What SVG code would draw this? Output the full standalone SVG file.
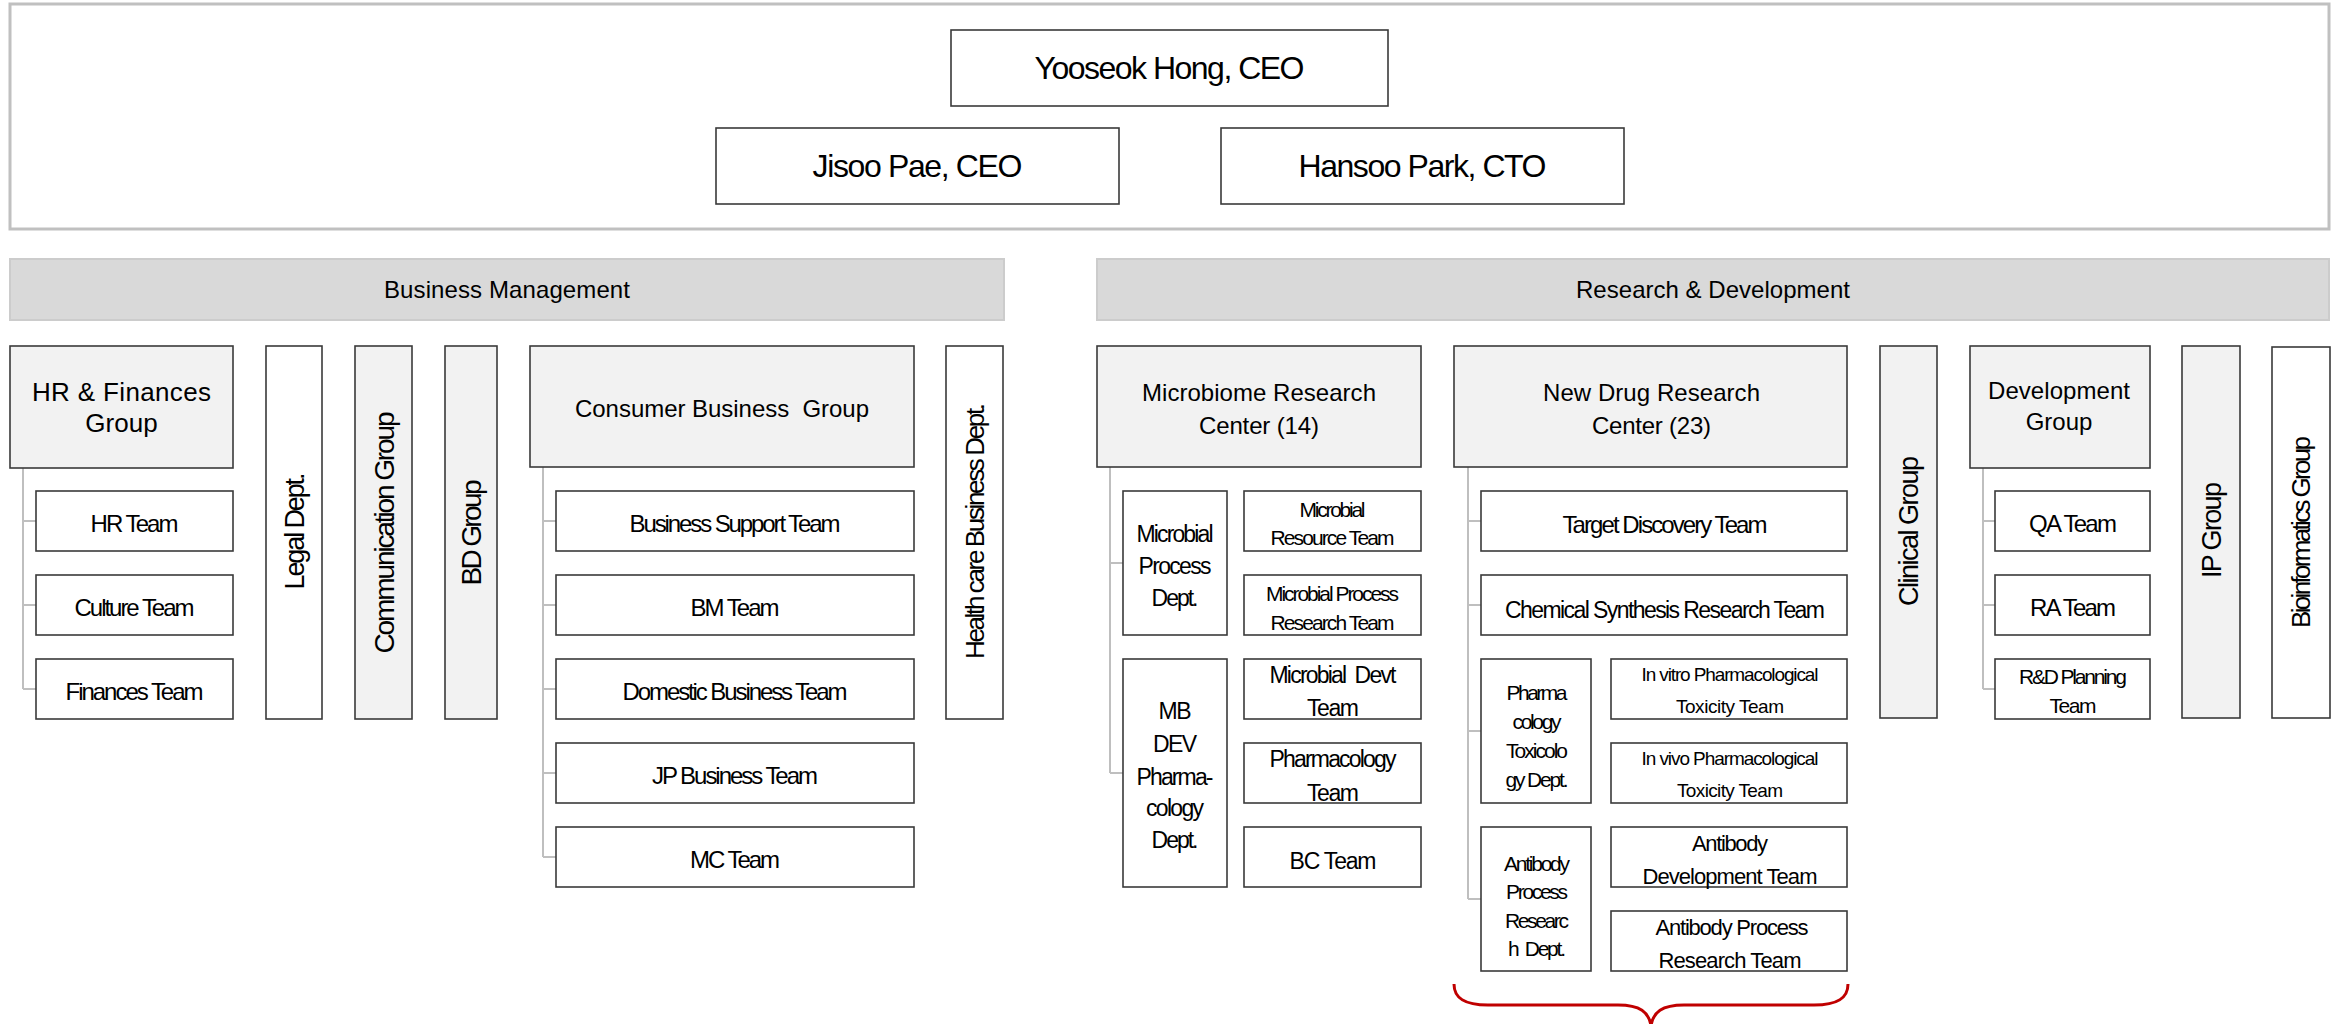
<svg xmlns="http://www.w3.org/2000/svg" width="2341" height="1024" viewBox="0 0 2341 1024">
  <style>
    .frame { fill: #ffffff; stroke: #c0c0c0; stroke-width: 3; }
    .bar { fill: #d9d9d9; stroke: #cccccc; stroke-width: 2; }
    .box { fill: #ffffff; stroke: #3a3a3a; stroke-width: 1.6; }
    .grp { fill: #f2f2f2; stroke: #3a3a3a; stroke-width: 1.6; }
    .link { fill: none; stroke: #bfbfbf; stroke-width: 2; }
    .brace { fill: none; stroke: #c00000; stroke-width: 3; }
    text { font-family: "Liberation Sans", Arial, sans-serif; fill: #000000; text-anchor: middle; white-space: pre; }
    .f32 { font-size: 32px; }
    .f28 { font-size: 28px; }
    .f27 { font-size: 27px; }
    .f26 { font-size: 26px; }
    .f24 { font-size: 24px; }
    .f23 { font-size: 23px; }
    .f22 { font-size: 22px; }
    .f21 { font-size: 21px; }
    .f19 { font-size: 19px; }
  </style>

  <!-- executive frame -->
  <rect class="frame" x="10" y="4" width="2319" height="225"/>

  <g id="ceo-hong">
    <rect class="box" x="951" y="30" width="437" height="76"/>
    <text class="f32" x="1169.5" y="79" textLength="270">Yooseok Hong, CEO</text>
  </g>
  <g id="ceo-pae">
    <rect class="box" x="716" y="128" width="403" height="76"/>
    <text class="f32" x="917.5" y="177" textLength="210">Jisoo Pae, CEO</text>
  </g>
  <g id="cto-park">
    <rect class="box" x="1221" y="128" width="403" height="76"/>
    <text class="f32" x="1422.5" y="177" textLength="248">Hansoo Park, CTO</text>
  </g>

  <!-- division headers -->
  <g id="business-management">
    <rect class="bar" x="10" y="259" width="994" height="61"/>
    <text class="f24" x="507" y="298" textLength="246">Business Management</text>
  </g>
  <g id="research-development">
    <rect class="bar" x="1097" y="259" width="1232" height="61"/>
    <text class="f24" x="1713" y="298" textLength="274">Research &amp; Development</text>
  </g>

  <!-- tree connectors -->
  <g id="connectors">
    <path class="link" d="M23,468 V689 M23,521 H36 M23,605 H36 M23,689 H36"/>
    <path class="link" d="M543,467 V857 M543,521 H556 M543,605 H556 M543,689 H556 M543,773 H556 M543,857 H556"/>
    <path class="link" d="M1110,467 V773 M1110,563 H1123 M1110,773 H1123"/>
    <path class="link" d="M1468,467 V899 M1468,521 H1481 M1468,605 H1481 M1468,731 H1481 M1468,899 H1481"/>
    <path class="link" d="M1983,468 V689 M1983,521 H1995 M1983,605 H1995 M1983,689 H1995"/>
  </g>

  <!-- Business Management units -->
  <g id="hr-finances-group">
    <rect class="grp" x="10" y="346" width="223" height="122"/>
    <text class="f26" x="121.5" y="401" textLength="179">HR &amp; Finances</text>
    <text class="f26" x="121.5" y="432">Group</text>
  </g>
  <g id="hr-team">
    <rect class="box" x="36" y="491" width="197" height="60"/>
    <text class="f24" x="134.5" y="532" textLength="88">HR Team</text>
  </g>
  <g id="culture-team">
    <rect class="box" x="36" y="575" width="197" height="60"/>
    <text class="f24" x="134.5" y="616" textLength="120">Culture Team</text>
  </g>
  <g id="finances-team">
    <rect class="box" x="36" y="659" width="197" height="60"/>
    <text class="f24" x="134.5" y="700" textLength="138">Finances Team</text>
  </g>

  <g id="legal-dept">
    <rect class="box" x="266" y="346" width="56" height="373"/>
    <text class="f27" transform="translate(304,531) rotate(-90)" textLength="117">Legal Dept.</text>
  </g>
  <g id="communication-group">
    <rect class="grp" x="355" y="346" width="57" height="373"/>
    <text class="f28" transform="translate(394,532.5) rotate(-90)" textLength="242">Communication Group</text>
  </g>
  <g id="bd-group">
    <rect class="grp" x="445" y="346" width="52" height="373"/>
    <text class="f28" transform="translate(481,532.5) rotate(-90)" textLength="106">BD Group</text>
  </g>

  <g id="consumer-business-group">
    <rect class="grp" x="530" y="346" width="384" height="121"/>
    <text class="f24" x="722" y="417" textLength="294">Consumer Business  Group</text>
  </g>
  <g id="business-support-team">
    <rect class="box" x="556" y="491" width="358" height="60"/>
    <text class="f24" x="735" y="532" textLength="211">Business Support Team</text>
  </g>
  <g id="bm-team">
    <rect class="box" x="556" y="575" width="358" height="60"/>
    <text class="f24" x="735" y="616" textLength="89">BM Team</text>
  </g>
  <g id="domestic-business-team">
    <rect class="box" x="556" y="659" width="358" height="60"/>
    <text class="f24" x="735" y="700" textLength="225">Domestic Business Team</text>
  </g>
  <g id="jp-business-team">
    <rect class="box" x="556" y="743" width="358" height="60"/>
    <text class="f24" x="735" y="784" textLength="166">JP Business Team</text>
  </g>
  <g id="mc-team">
    <rect class="box" x="556" y="827" width="358" height="60"/>
    <text class="f24" x="735" y="868" textLength="90">MC Team</text>
  </g>

  <g id="healthcare-business-dept">
    <rect class="box" x="946" y="346" width="57" height="373"/>
    <text class="f26" transform="translate(984,531) rotate(-90)" textLength="256">Health care Business Dept.</text>
  </g>

  <!-- Microbiome Research Center -->
  <g id="microbiome-research-center">
    <rect class="grp" x="1097" y="346" width="324" height="121"/>
    <text class="f24" x="1259" y="401" textLength="234">Microbiome Research</text>
    <text class="f24" x="1259" y="434" textLength="120">Center (14)</text>
  </g>
  <g id="microbial-process-dept">
    <rect class="box" x="1123" y="491" width="104" height="144"/>
    <text class="f23" x="1175" y="542" textLength="77">Microbial</text>
    <text class="f23" x="1175" y="574" textLength="73">Process</text>
    <text class="f23" x="1175" y="606" textLength="47">Dept.</text>
  </g>
  <g id="mb-dev-pharmacology-dept">
    <rect class="box" x="1123" y="659" width="104" height="228"/>
    <text class="f23" x="1175" y="719" textLength="33">MB</text>
    <text class="f23" x="1175" y="752" textLength="44">DEV</text>
    <text class="f23" x="1175" y="785" textLength="77">Pharma-</text>
    <text class="f23" x="1175" y="816" textLength="58">cology</text>
    <text class="f23" x="1175" y="848" textLength="47">Dept.</text>
  </g>
  <g id="microbial-resource-team">
    <rect class="box" x="1244" y="491" width="177" height="60"/>
    <text class="f21" x="1332.5" y="517" textLength="66">Microbial</text>
    <text class="f21" x="1332.5" y="545" textLength="124">Resource Team</text>
  </g>
  <g id="microbial-process-research-team">
    <rect class="box" x="1244" y="575" width="177" height="60"/>
    <text class="f21" x="1332.5" y="601" textLength="133">Microbial Process</text>
    <text class="f21" x="1332.5" y="630" textLength="124">Research Team</text>
  </g>
  <g id="microbial-devt-team">
    <rect class="box" x="1244" y="659" width="177" height="60"/>
    <text class="f23" x="1333" y="683" textLength="127">Microbial  Devt</text>
    <text class="f23" x="1333" y="716" textLength="52">Team</text>
  </g>
  <g id="pharmacology-team">
    <rect class="box" x="1244" y="743" width="177" height="60"/>
    <text class="f23" x="1333" y="767" textLength="127">Pharmacology</text>
    <text class="f23" x="1333" y="801" textLength="52">Team</text>
  </g>
  <g id="bc-team">
    <rect class="box" x="1244" y="827" width="177" height="60"/>
    <text class="f23" x="1333" y="869" textLength="87">BC Team</text>
  </g>

  <!-- New Drug Research Center -->
  <g id="new-drug-research-center">
    <rect class="grp" x="1454" y="346" width="393" height="121"/>
    <text class="f24" x="1651.5" y="401" textLength="217">New Drug Research</text>
    <text class="f24" x="1651.5" y="434" textLength="119">Center (23)</text>
  </g>
  <g id="target-discovery-team">
    <rect class="box" x="1481" y="491" width="366" height="60"/>
    <text class="f24" x="1665" y="533" textLength="205">Target Discovery Team</text>
  </g>
  <g id="chemical-synthesis-research-team">
    <rect class="box" x="1481" y="575" width="366" height="60"/>
    <text class="f23" x="1665" y="618" textLength="320">Chemical Synthesis Research Team</text>
  </g>
  <g id="pharmacology-toxicology-dept">
    <rect class="box" x="1481" y="659" width="110" height="144"/>
    <text class="f21" x="1537" y="700" textLength="61">Pharma</text>
    <text class="f21" x="1537" y="729" textLength="49">cology</text>
    <text class="f21" x="1537" y="758" textLength="62">Toxicolo</text>
    <text class="f21" x="1537" y="787" textLength="63">gy Dept.</text>
  </g>
  <g id="in-vitro-toxicity-team">
    <rect class="box" x="1611" y="659" width="236" height="60"/>
    <text class="f19" x="1730" y="681" textLength="177">In vitro Pharmacological</text>
    <text class="f19" x="1730" y="713" textLength="108">Toxicity Team</text>
  </g>
  <g id="in-vivo-toxicity-team">
    <rect class="box" x="1611" y="743" width="236" height="60"/>
    <text class="f19" x="1730" y="765" textLength="177">In vivo Pharmacological</text>
    <text class="f19" x="1730" y="797" textLength="106">Toxicity Team</text>
  </g>
  <g id="antibody-process-research-dept">
    <rect class="box" x="1481" y="827" width="110" height="144"/>
    <text class="f21" x="1537" y="871" textLength="66">Antibody</text>
    <text class="f21" x="1537" y="899" textLength="62">Process</text>
    <text class="f21" x="1537" y="928" textLength="64">Researc</text>
    <text class="f21" x="1537" y="956" textLength="58">h  Dept.</text>
  </g>
  <g id="antibody-development-team">
    <rect class="box" x="1611" y="827" width="236" height="60"/>
    <text class="f22" x="1730" y="851" textLength="76">Antibody</text>
    <text class="f22" x="1730" y="884" textLength="175">Development Team</text>
  </g>
  <g id="antibody-process-research-team">
    <rect class="box" x="1611" y="911" width="236" height="60"/>
    <text class="f22" x="1732" y="935" textLength="153">Antibody Process</text>
    <text class="f22" x="1730" y="968" textLength="143">Research Team</text>
  </g>

  <!-- red brace under the New Drug Research Center -->
  <path class="brace" d="M1454,984 C1454,998 1464,1005 1488,1005 L1618,1005 C1640,1005 1649,1012 1651,1026 C1653,1012 1662,1005 1684,1005 L1814,1005 C1838,1005 1848,998 1848,984"/>

  <!-- remaining R&D units -->
  <g id="clinical-group">
    <rect class="grp" x="1880" y="346" width="57" height="372"/>
    <text class="f27" transform="translate(1918,531) rotate(-90)" textLength="150">Clinical Group</text>
  </g>
  <g id="development-group">
    <rect class="grp" x="1970" y="346" width="180" height="122"/>
    <text class="f24" x="2059" y="399" textLength="142">Development</text>
    <text class="f24" x="2059" y="430">Group</text>
  </g>
  <g id="qa-team">
    <rect class="box" x="1995" y="491" width="155" height="60"/>
    <text class="f24" x="2073" y="532" textLength="88">QA Team</text>
  </g>
  <g id="ra-team">
    <rect class="box" x="1995" y="575" width="155" height="60"/>
    <text class="f24" x="2073" y="616" textLength="86">RA Team</text>
  </g>
  <g id="rd-planning-team">
    <rect class="box" x="1995" y="659" width="155" height="60"/>
    <text class="f21" x="2073" y="684" textLength="108">R&amp;D Planning</text>
    <text class="f21" x="2073" y="713" textLength="47">Team</text>
  </g>
  <g id="ip-group">
    <rect class="grp" x="2182" y="346" width="58" height="372"/>
    <text class="f27" transform="translate(2221,530) rotate(-90)" textLength="96">IP Group</text>
  </g>
  <g id="bioinformatics-group">
    <rect class="box" x="2272" y="347" width="58" height="371"/>
    <text class="f26" transform="translate(2310,532) rotate(-90)" textLength="192">Bioinformatics Group</text>
  </g>
</svg>
